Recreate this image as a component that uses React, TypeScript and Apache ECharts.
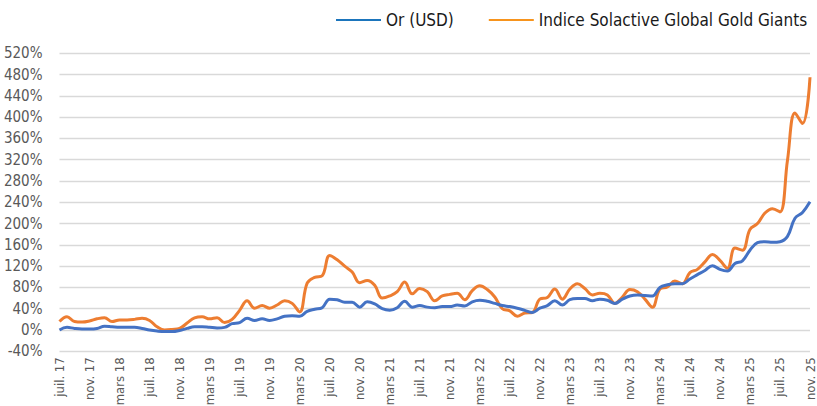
import React, { useEffect, useRef } from "react";
import * as echarts from "echarts";

const MONTH_NAMES = ["janv.", "févr.", "mars", "avr.", "mai", "juin", "juil.", "août", "sept.", "oct.", "nov.", "déc."];
const START_MONTH = 6; // juillet
const START_YEAR = 17;
const N_POINTS = 101;
const categories: string[] = Array.from({ length: N_POINTS }, (_, k) => {
  const m = (START_MONTH + k) % 12;
  const y = START_YEAR + Math.floor((START_MONTH + k) / 12);
  return `${MONTH_NAMES[m]} ${y}`;
});

const seriesNames = ["Or (USD)", "Indice Solactive Global Gold Giants"];

const gold = [
  0, 5, 3, 2, 2, 3, 7, 6, 5, 5,
  5, 3, 0, -2, -3, -3, -1, 3, 6, 6,
  5, 4, 5, 12, 14, 22, 18, 21, 18, 21,
  26, 27, 26, 35, 39, 42, 58, 57, 52, 52,
  43, 53, 49, 40, 37, 42, 54, 43, 46, 43,
  42, 44, 44, 47, 45, 53, 56, 54, 50, 46,
  44, 41, 37, 33, 41, 46, 55, 47, 57, 59,
  59, 55, 58, 56, 50, 58, 64, 66, 65, 64,
  80, 85, 87, 87, 96, 104, 112, 121, 114, 111,
  125, 130, 150, 164, 166, 165, 166, 176, 210, 221,
  241,
];

const goldGiants = [
  16, 25, 16, 15, 17, 21, 23, 16, 19, 19,
  20, 22, 18, 6, 0, 1, 3, 13, 23, 25,
  21, 23, 14, 20, 37, 55, 41, 46, 41, 47,
  55, 50, 34, 88, 99, 102, 140, 132, 120, 109,
  89, 93, 84, 60, 64, 72, 90, 68, 78, 72,
  55, 64, 67, 69, 57, 74, 83, 76, 62, 40,
  36, 26, 32, 33, 58, 61, 77, 58, 77, 87,
  78, 66, 69, 66, 50, 62, 76, 72, 58, 43,
  77, 81, 92, 87, 108, 114, 128, 142, 131, 116,
  154, 150, 189, 200, 220, 228, 222, 319, 408, 388,
  475,
];

const Y_MIN = -40;
const Y_MAX = 520;
const Y_STEP = 40;

const FONT = "'DejaVu Sans Condensed', 'Liberation Sans Narrow', sans-serif";

export default function App() {
  const ref = useRef<HTMLDivElement>(null);

  useEffect(() => {
    if (!ref.current) return;
    const chart = echarts.init(ref.current, null, { renderer: "svg" });
    chart.setOption({
      animation: false,
      backgroundColor: "#ffffff",
      textStyle: { fontFamily: FONT },
      legend: {
        left: 336,
        top: 11.5,
        width: 478,
        padding: 0,
        icon: "rect",
        itemWidth: 45,
        itemHeight: 2,
        itemGap: 35,
        itemTextGap: 5,
        textStyle: { fontFamily: FONT, fontSize: 17, color: "#1a1a1a" },
        data: [
          { name: seriesNames[0], itemStyle: { color: "#1B75BC" } },
          { name: seriesNames[1], itemStyle: { color: "#F7941D" } },
        ],
      },
      grid: {
        left: 59.5,
        right: 7,
        top: 53.3,
        bottom: 54.7,
        containLabel: false,
        outerBoundsMode: "none",
      },
      xAxis: {
        type: "category",
        data: categories,
        boundaryGap: false,
        axisLine: { show: false, onZero: false },
        axisTick: { show: false },
        axisLabel: {
          interval: 3,
          rotate: 90,
          margin: 6,
          fontFamily: FONT,
          fontSize: 13,
          color: "#595959",
        },
        splitLine: { show: false },
      },
      yAxis: {
        type: "value",
        min: Y_MIN,
        max: Y_MAX,
        interval: Y_STEP,
        axisLine: { show: false },
        axisTick: { show: false },
        axisLabel: {
          formatter: (v: number) => `${v}%`,
          fontFamily: FONT,
          fontSize: 15,
          color: "#595959",
          margin: 17,
        },
        splitLine: { lineStyle: { color: "#D9D9D9", width: 1.3 } },
      },
      series: [
        {
          name: seriesNames[0],
          type: "line",
          data: gold,
          smooth: 0.4,
          showSymbol: false,
          symbol: "none",
          lineStyle: { color: "#4472C4", width: 3 },
          itemStyle: { color: "#4472C4" },
          z: 3,
        },
        {
          name: seriesNames[1],
          type: "line",
          data: goldGiants,
          smooth: 0.4,
          showSymbol: false,
          symbol: "none",
          lineStyle: { color: "#ED7D31", width: 3 },
          itemStyle: { color: "#ED7D31" },
          z: 2,
        },
      ],
    });
    return () => chart.dispose();
  }, []);

  return <div ref={ref} style={{ width: 817, height: 406, position: "absolute", left: 0, top: 0 }} />;
}
